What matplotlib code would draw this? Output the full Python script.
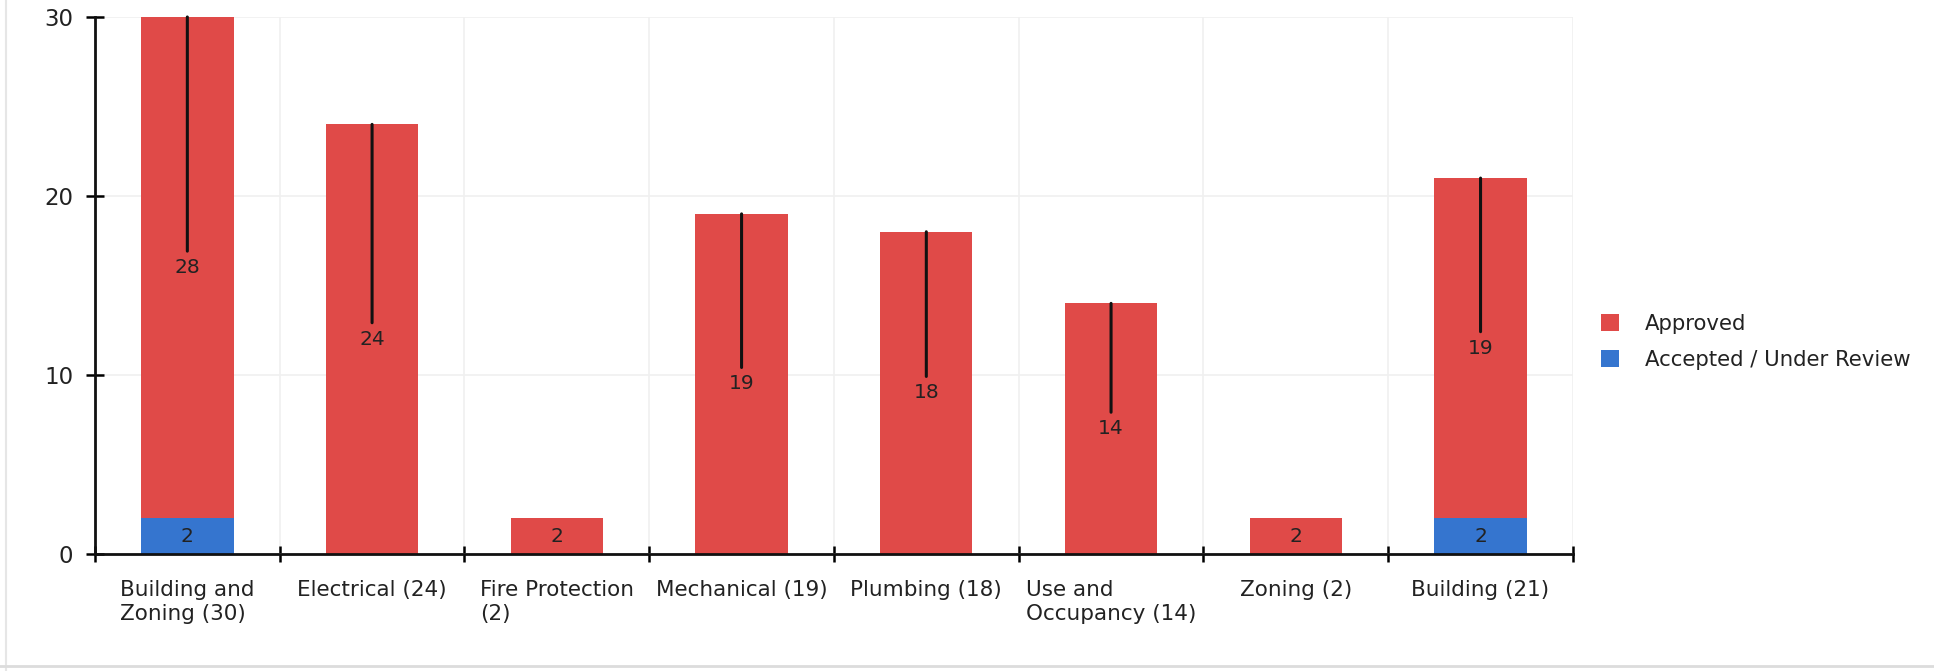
import numpy as np
import matplotlib.pyplot as plt
from matplotlib.lines import Line2D

categories = ["Building and\nZoning (30)", "Electrical (24)", "Fire Protection\n(2)",
              "Mechanical (19)", "Plumbing (18)", "Use and\nOccupancy (14)",
              "Zoning (2)", "Building (21)"]
accepted = [2, 0, 0, 0, 0, 0, 0, 2]
approved = [28, 24, 2, 19, 18, 14, 2, 19]

red = "#e04a48"
blue = "#3575cf"

fig = plt.figure(figsize=(19.34, 6.71), dpi=100)
ax = fig.add_axes([0.0491, 0.1744, 0.8133 - 0.0491, 0.9747 - 0.1744])

x = np.arange(len(categories))
acc = np.array(accepted)
app = np.array(approved)

ax.bar(x, acc, width=0.5, color=blue, label="Accepted / Under Review", zorder=2)
ax.bar(x, app, width=0.5, bottom=acc, color=red, label="Approved", zorder=2)

# segment labels, tall segments get a leader line up to the top
for i in range(len(x)):
    if acc[i] > 0:
        ax.text(x[i], acc[i] / 2, str(acc[i]), ha="center", va="center",
                fontsize=14.5, color="#222222", zorder=4)
    if app[i] > 0:
        mid = acc[i] + app[i] / 2
        top = acc[i] + app[i]
        if app[i] > 2:
            ax.annotate(str(app[i]), xy=(x[i], top), xytext=(x[i], mid),
                        ha="center", va="center", fontsize=14.5, color="#222222",
                        arrowprops=dict(arrowstyle="-", lw=2.2, color="#111111",
                                        shrinkA=3, shrinkB=0), zorder=4)
        else:
            ax.text(x[i], mid, str(app[i]), ha="center", va="center",
                    fontsize=14.5, color="#222222", zorder=4)

ax.set_xlim(-0.5, len(categories) - 0.5)
ax.set_ylim(0, 30)

# boundaries as major ticks, names on minor ticks at the centres
ax.set_xticks(np.arange(-0.5, len(categories), 1.0))
ax.set_xticklabels([])
ax.set_xticks(x, minor=True)
ax.set_xticklabels(categories, minor=True, fontsize=15.5, color="#222222",
                   multialignment="left", linespacing=1.2)
ax.tick_params(axis="x", which="major", direction="inout", length=12, width=1.8)
ax.tick_params(axis="x", which="minor", length=0, pad=19)

ax.set_yticks([0, 10, 20, 30])
ax.tick_params(axis="y", direction="inout", length=13, width=1.8, labelsize=16.5,
               pad=9, labelcolor="#222222")

ax.grid(True, which="major", color="#f0f0f0", lw=1.2, zorder=0)
ax.set_axisbelow(True)

for side in ["top", "right"]:
    ax.spines[side].set_visible(False)
for side in ["left", "bottom"]:
    ax.spines[side].set_linewidth(2)
    ax.spines[side].set_color("#111111")

handles, labels = ax.get_legend_handles_labels()
fig.legend(handles[::-1], labels[::-1], loc="center left",
           bbox_to_anchor=(0.818, 0.491), frameon=False, fontsize=15.3,
           handlelength=0.85, handleheight=0.85, handletextpad=1.2,
           labelspacing=0.75, labelcolor="#222222")

# faint page border on the left and bottom
fig.add_artist(Line2D([0.003, 0.003], [0.0, 1.0], color="#e6e6e6", lw=1.5))
fig.add_artist(Line2D([0.0, 1.0], [0.008, 0.008], color="#dcdcdc", lw=2))

fig.savefig("out.png", dpi=100)
